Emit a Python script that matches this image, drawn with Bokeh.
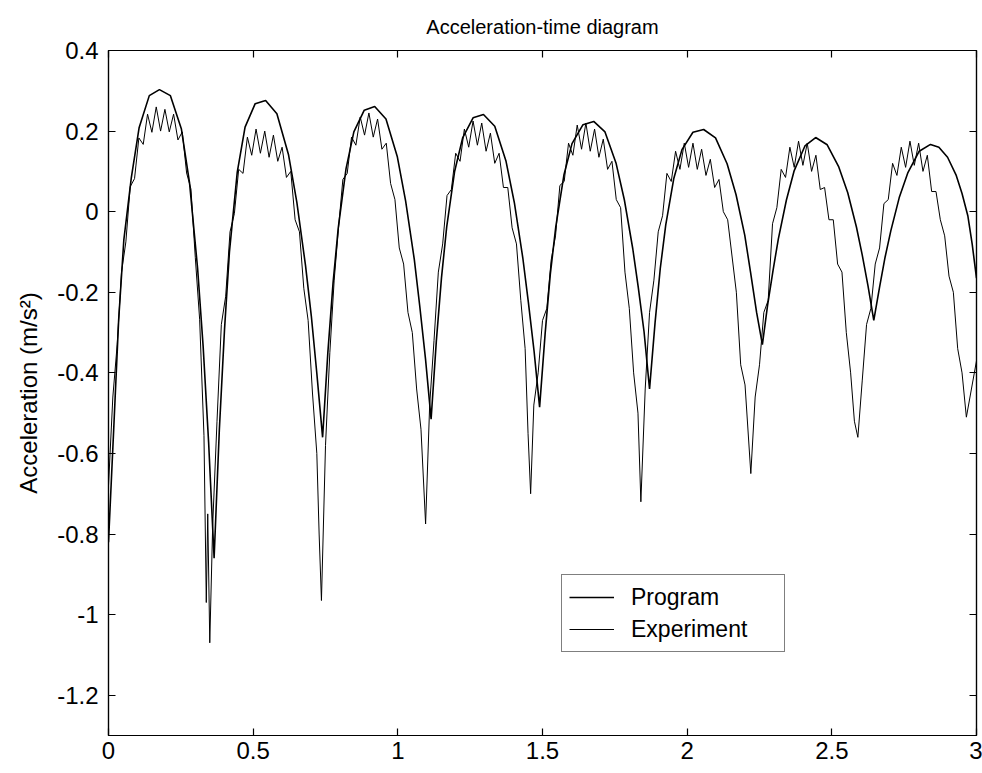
from bokeh.plotting import figure
from bokeh.models import FixedTicker, LinearAxis, Legend, LegendItem, Range1d
from bokeh.embed import file_html
from bokeh.resources import INLINE

# ---------------- data ----------------
prog_t = [0.000, 0.018, 0.035, 0.053, 0.079, 0.106, 0.141, 0.176, 0.214, 0.252, 0.280, 0.308, 0.327, 0.346,
          0.365, 0.383, 0.401, 0.418, 0.445, 0.472, 0.507, 0.543, 0.582, 0.622, 0.651, 0.681, 0.701, 0.720,
          0.740, 0.758, 0.776, 0.794, 0.821, 0.848, 0.884, 0.920, 0.959, 0.998, 1.027, 1.057, 1.076, 1.096,
          1.115, 1.133, 1.151, 1.169, 1.196, 1.224, 1.260, 1.296, 1.335, 1.374, 1.403, 1.432, 1.451, 1.471,
          1.490, 1.509, 1.527, 1.546, 1.574, 1.602, 1.640, 1.677, 1.716, 1.754, 1.783, 1.812, 1.831, 1.851,
          1.870, 1.889, 1.907, 1.926, 1.954, 1.982, 2.020, 2.057, 2.098, 2.138, 2.169, 2.199, 2.219, 2.240,
          2.260, 2.278, 2.297, 2.315, 2.343, 2.370, 2.407, 2.444, 2.484, 2.524, 2.555, 2.585, 2.605, 2.625,
          2.645, 2.665, 2.684, 2.704, 2.733, 2.763, 2.802, 2.841, 2.870, 2.900, 2.930, 2.950, 2.970, 2.985,
          3.000]
prog_a = [-0.820, -0.540, -0.270, -0.070, 0.085, 0.209, 0.288, 0.303, 0.288, 0.205, 0.072, -0.141, -0.333, -0.572,
          -0.860, -0.543, -0.292, -0.100, 0.098, 0.210, 0.268, 0.276, 0.243, 0.142, 0.023, -0.134, -0.259, -0.401,
          -0.560, -0.351, -0.178, -0.041, 0.107, 0.198, 0.252, 0.261, 0.230, 0.137, 0.026, -0.119, -0.236, -0.368,
          -0.515, -0.322, -0.163, -0.037, 0.099, 0.183, 0.233, 0.241, 0.212, 0.125, 0.021, -0.115, -0.224, -0.347,
          -0.485, -0.304, -0.155, -0.037, 0.091, 0.169, 0.216, 0.224, 0.198, 0.121, 0.029, -0.092, -0.188, -0.298,
          -0.440, -0.276, -0.141, -0.033, 0.083, 0.154, 0.197, 0.204, 0.183, 0.119, 0.042, -0.058, -0.150, -0.250,
          -0.330, -0.232, -0.145, -0.068, 0.029, 0.102, 0.163, 0.184, 0.166, 0.111, 0.047, -0.038, -0.107, -0.184,
          -0.270, -0.187, -0.113, -0.047, 0.035, 0.097, 0.150, 0.167, 0.160, 0.135, 0.090, 0.045, -0.010, -0.080,
          -0.165]

exp_t = [0.000, 0.015, 0.030, 0.045, 0.060, 0.075, 0.090, 0.105, 0.120, 0.135, 0.150, 0.165, 0.180, 0.195,
         0.210, 0.225, 0.240, 0.255, 0.270, 0.285, 0.300, 0.315, 0.330, 0.338, 0.343, 0.350,
         0.360, 0.375, 0.390, 0.405, 0.420, 0.435, 0.450, 0.465, 0.480, 0.495, 0.510, 0.525, 0.540, 0.555,
         0.570, 0.585, 0.600, 0.615, 0.630, 0.645, 0.660, 0.675, 0.690, 0.705, 0.720, 0.728, 0.736,
         0.750, 0.765, 0.780, 0.795, 0.810, 0.825, 0.840, 0.855, 0.870, 0.885, 0.900, 0.915, 0.930, 0.945,
         0.960, 0.975, 0.990, 1.005, 1.020, 1.035, 1.050, 1.065, 1.080, 1.096,
         1.110, 1.125, 1.140, 1.155, 1.170, 1.185, 1.200, 1.215, 1.230, 1.245, 1.260, 1.275, 1.290, 1.305,
         1.320, 1.335, 1.350, 1.365, 1.380, 1.395, 1.410, 1.425, 1.440, 1.450, 1.459,
         1.470, 1.485, 1.500, 1.515, 1.530, 1.545, 1.560, 1.575, 1.590, 1.605, 1.620, 1.635, 1.650, 1.665,
         1.680, 1.695, 1.710, 1.725, 1.740, 1.755, 1.770, 1.785, 1.800, 1.815, 1.830, 1.840,
         1.855, 1.870, 1.885, 1.900, 1.915, 1.930, 1.945, 1.960, 1.975, 1.990, 2.005, 2.020, 2.035, 2.050,
         2.065, 2.080, 2.095, 2.110, 2.125, 2.140, 2.155, 2.170, 2.185, 2.200, 2.220,
         2.235, 2.250, 2.265, 2.280, 2.295, 2.310, 2.325, 2.340, 2.355, 2.370, 2.385, 2.400, 2.415, 2.430,
         2.445, 2.460, 2.475, 2.490, 2.505, 2.520, 2.535, 2.550, 2.565, 2.578, 2.590,
         2.605, 2.620, 2.635, 2.650, 2.665, 2.680, 2.695, 2.710, 2.725, 2.740, 2.755, 2.770, 2.785, 2.800,
         2.815, 2.830, 2.845, 2.860, 2.875, 2.890, 2.905, 2.920, 2.935, 2.950, 2.965, 2.980, 3.000]
exp_a = [-0.680, -0.460, -0.330, -0.150, -0.075, 0.062, 0.082, 0.183, 0.167, 0.242, 0.197, 0.260, 0.200, 0.254,
         0.198, 0.242, 0.178, 0.198, 0.096, 0.056, -0.114, -0.267, -0.556, -0.970, -0.750, -1.070,
         -0.780, -0.520, -0.280, -0.210, -0.050, -0.005, 0.105, 0.095, 0.185, 0.140, 0.205, 0.145, 0.200, 0.135,
         0.190, 0.125, 0.160, 0.085, 0.100, -0.020, -0.050, -0.190, -0.270, -0.450, -0.600, -0.800, -0.965,
         -0.580, -0.350, -0.170, -0.040, 0.080, 0.095, 0.185, 0.165, 0.235, 0.190, 0.245, 0.185, 0.230, 0.155,
         0.170, 0.070, 0.030, -0.090, -0.130, -0.250, -0.300, -0.440, -0.540, -0.775,
         -0.480, -0.320, -0.150, -0.080, 0.040, 0.055, 0.145, 0.125, 0.205, 0.160, 0.225, 0.165, 0.220, 0.150,
         0.195, 0.120, 0.145, 0.060, 0.060, -0.040, -0.080, -0.220, -0.340, -0.550, -0.700,
         -0.480, -0.400, -0.270, -0.240, -0.120, -0.060, 0.065, 0.075, 0.170, 0.140, 0.215, 0.155, 0.220, 0.150,
         0.205, 0.135, 0.180, 0.105, 0.125, 0.030, 0.010, -0.150, -0.240, -0.400, -0.500, -0.720,
         -0.440, -0.250, -0.170, -0.050, -0.010, 0.095, 0.075, 0.150, 0.105, 0.170, 0.110, 0.170, 0.105, 0.155,
         0.090, 0.130, 0.060, 0.080, 0.000, -0.020, -0.110, -0.200, -0.380, -0.430, -0.650,
         -0.460, -0.380, -0.250, -0.220, -0.030, 0.010, 0.105, 0.085, 0.160, 0.110, 0.175, 0.115, 0.170, 0.100,
         0.140, 0.055, 0.060, -0.020, -0.020, -0.130, -0.150, -0.300, -0.400, -0.520, -0.560,
         -0.420, -0.280, -0.240, -0.130, -0.090, 0.020, 0.030, 0.120, 0.090, 0.160, 0.110, 0.175, 0.115, 0.170,
         0.100, 0.140, 0.050, 0.050, -0.020, -0.060, -0.160, -0.200, -0.340, -0.400, -0.510, -0.450, -0.370]

x_ticks = [0, 0.5, 1, 1.5, 2, 2.5, 3]
x_tick_labels = ["0", "0.5", "1", "1.5", "2", "2.5", "3"]
y_ticks = [-1.2, -1.0, -0.8, -0.6, -0.4, -0.2, 0, 0.2, 0.4]
y_tick_labels = ["-1.2", "-1", "-0.8", "-0.6", "-0.4", "-0.2", "0", "0.2", "0.4"]

FONT = "Liberation Sans"

p = figure(width=982, height=773, x_range=Range1d(0, 3), y_range=Range1d(-1.3, 0.4),
           output_backend="svg", toolbar_location=None,
           min_border_left=108, min_border_right=6, min_border_top=49, min_border_bottom=38,
           title="Acceleration-time diagram")
p.title.text_font = FONT
p.title.text_font_size = "20px"
p.title.text_font_style = "normal"
p.title.align = "center"
p.title.text_color = "black"
p.title.standoff = 26

p.xgrid.visible = False
p.ygrid.visible = False
p.outline_line_color = "black"
p.outline_line_width = 1.2
p.background_fill_color = "white"
p.border_fill_color = "white"


def style(ax, ticks, labels, show_labels=True):
    ax.ticker = FixedTicker(ticks=ticks)
    ax.major_label_overrides = {t: l for t, l in zip(ticks, labels)}
    ax.axis_line_color = "black"
    ax.axis_line_width = 1.2
    ax.major_tick_line_color = "black"
    ax.major_tick_line_width = 1.2
    ax.major_tick_in = 7
    ax.major_tick_out = 0
    ax.minor_tick_line_color = None
    ax.major_label_text_font = FONT
    ax.major_label_text_color = "black"
    if show_labels:
        ax.major_label_text_font_size = "24px"
        ax.major_label_standoff = 8
    else:
        ax.major_label_text_font_size = "0px"
        ax.major_label_standoff = 0
        ax.major_label_text_alpha = 0


style(p.xaxis[0], x_ticks, x_tick_labels)
style(p.yaxis[0], y_ticks, y_tick_labels)
p.xaxis[0].major_label_standoff = 6
p.yaxis[0].major_label_standoff = 10
p.yaxis[0].axis_label = "Acceleration (m/s²)"
p.yaxis[0].axis_label_text_font = FONT
p.yaxis[0].axis_label_text_font_size = "24px"
p.yaxis[0].axis_label_text_font_style = "normal"
p.yaxis[0].axis_label_text_color = "black"
p.yaxis[0].axis_label_standoff = 12

ax_r = LinearAxis()
style(ax_r, y_ticks, y_tick_labels, show_labels=False)
p.add_layout(ax_r, "right")
ax_t = LinearAxis()
style(ax_t, x_ticks, x_tick_labels, show_labels=False)
p.add_layout(ax_t, "above")

r_prog = p.line(prog_t, prog_a, line_color="black", line_width=1.6)
r_exp = p.line(exp_t, exp_a, line_color="black", line_width=1.0)

legend = Legend(items=[LegendItem(label="Program", renderers=[r_prog]),
                       LegendItem(label="Experiment", renderers=[r_exp])],
                location=(453, 83))
legend.border_line_color = "black"
legend.border_line_width = 1.2
legend.background_fill_color = "white"
legend.background_fill_alpha = 1
legend.label_text_font = FONT
legend.label_text_font_size = "23px"
legend.label_text_color = "black"
legend.glyph_width = 45
legend.glyph_height = 30
legend.label_height = 30
legend.label_standoff = 17
legend.label_width = 146
legend.padding = 7
legend.spacing = 2
legend.margin = 0
p.add_layout(legend, "center")

open("out.html", "w").write(file_html(p, INLINE))
